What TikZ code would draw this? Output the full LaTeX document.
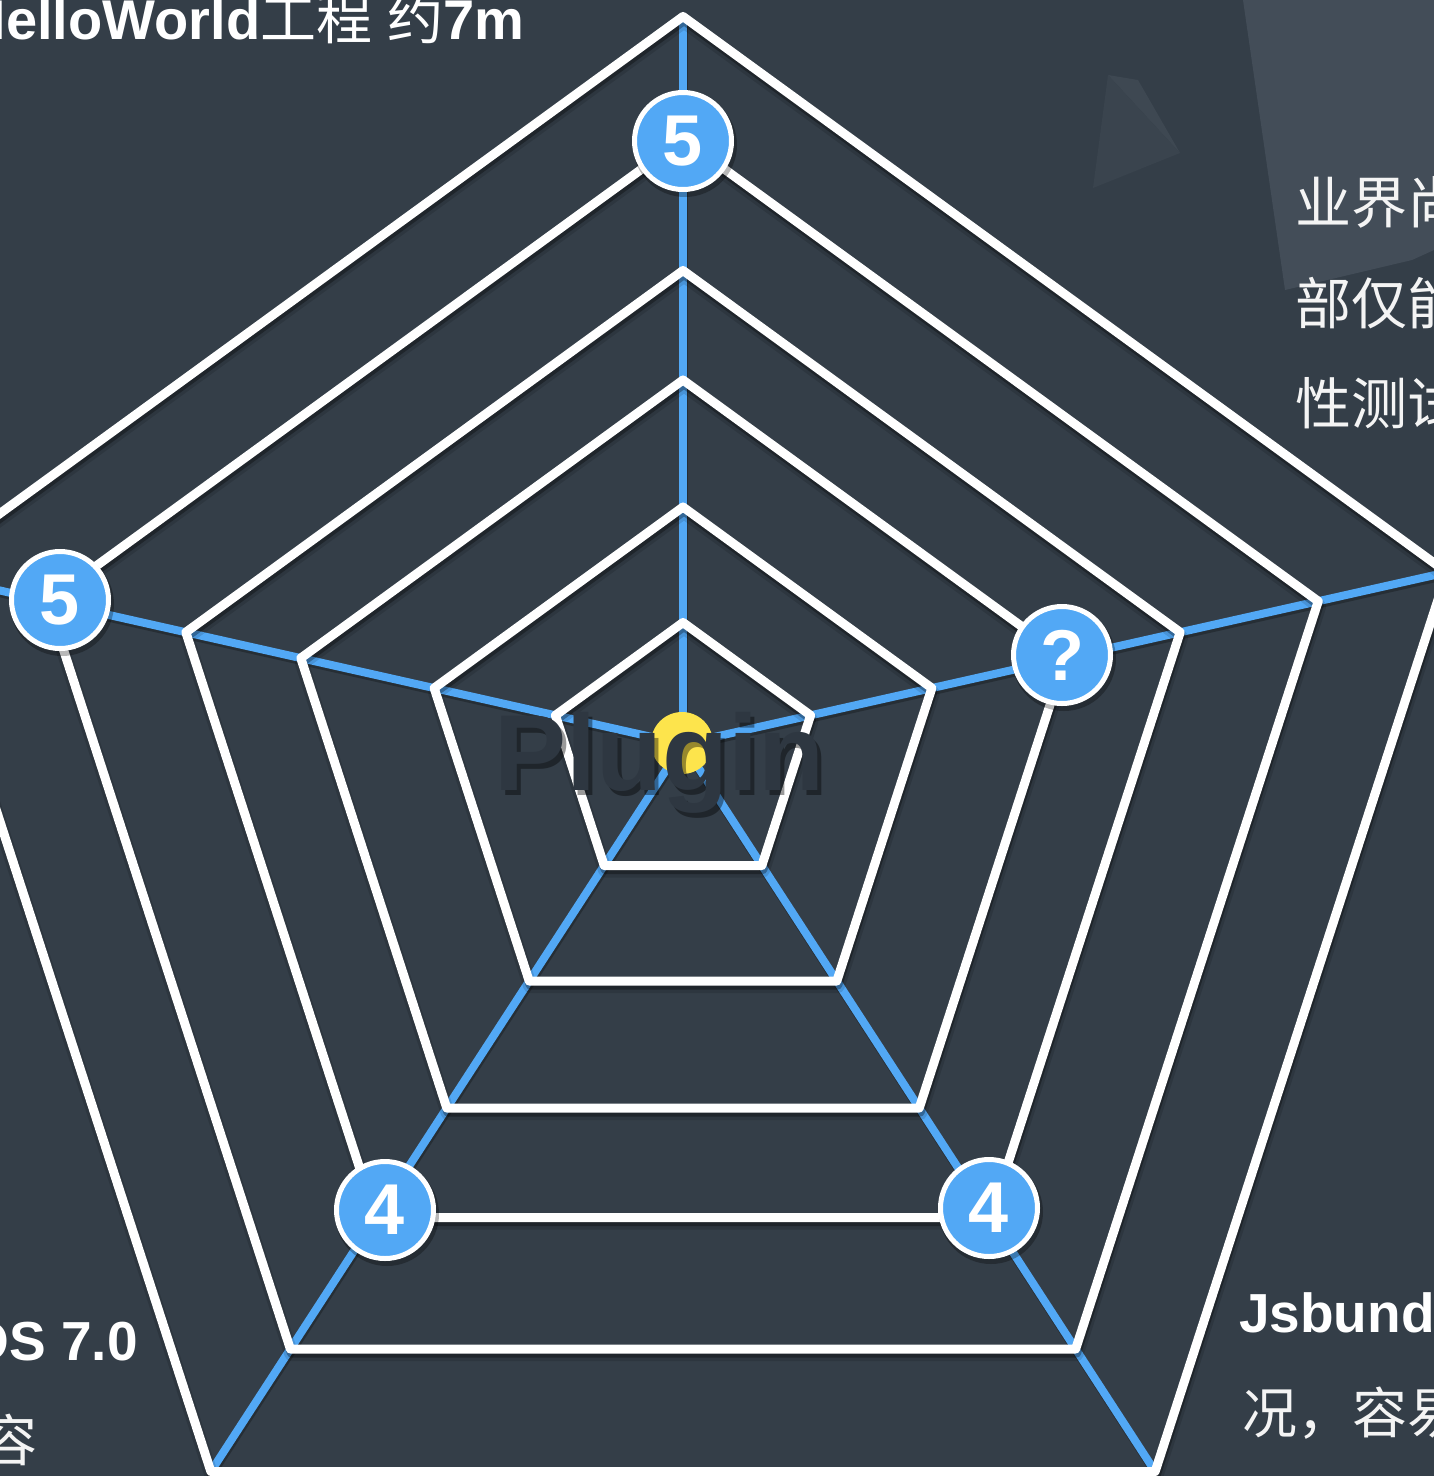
\documentclass[tikz,border=0pt]{standalone}
\usepackage{fontspec}
\setmainfont{Liberation Sans}
\newfontfamily\cjk{Noto Sans CJK SC}
\definecolor{bgcol}{RGB}{52,62,72}
\definecolor{decoA}{RGB}{67,77,88}
\definecolor{decoB}{RGB}{62,72,82}
\definecolor{decoC}{RGB}{58,68,78}
\definecolor{spokecol}{RGB}{82,168,245}
\definecolor{dotcol}{RGB}{253,228,76}
\definecolor{plugcol}{RGB}{46,55,65}
\definecolor{lighttxt}{RGB}{244,244,244}
\tikzset{
  ringline/.style={draw=white, line width=9pt, line join=round},
  ringshadowA/.style={draw=black, opacity=0.30, line width=9pt, line join=round},
  ringshadowB/.style={draw=black, opacity=0.12, line width=14pt, line join=round},
  spokeline/.style={draw=spokecol, line width=8pt},
  spokeshadow/.style={draw=black, opacity=0.25, line width=8pt},
  valnode/.style={circle, fill=spokecol, draw=white, line width=5pt, minimum size=97pt,
    inner sep=0pt, text=white, font=\fontsize{72}{72}\selectfont\bfseries},
  valshadow/.style={fill=black, opacity=0.28},
  bigtxt/.style={inner sep=0pt, text=white, font=\fontsize{55}{60}\selectfont\bfseries},
  cjktxt/.style={inner sep=0pt, text=lighttxt, font=\fontsize{56}{60}\selectfont\cjk},
  plugtext/.style={inner sep=0pt, anchor=base west, font=\fontsize{108}{110}\selectfont\bfseries}
}
\begin{document}
\begin{tikzpicture}[x=1pt,y=-1pt]
\useasboundingbox (0,0) rectangle (1434,1476);
\begin{scope}
\clip (0,0) rectangle (1434,1476);
\fill[bgcol] (0,0) rectangle (1434,1476);
% decorative shapes
\fill[decoA] (1243,0) -- (1434,0) -- (1434,250) -- (1412,260) -- (1285,290) -- cycle;
\fill[decoB] (1108,75) -- (1138,80) -- (1180,153) -- cycle;
\fill[decoC] (1108,75) -- (1180,153) -- (1093,188) -- cycle;
% centre and spoke ends
\def\L{727.5}
\coordinate (c) at (683,744);
\coordinate (s1) at (683,{744-\L});
\coordinate (s2) at ({683+1.05*\L},{744-0.236*\L});
\coordinate (s3) at ({683+0.649*\L},{744+\L});
\coordinate (s4) at ({683-0.649*\L},{744+\L});
\coordinate (s5) at ({683-1.05*\L},{744-0.236*\L});
% spokes
\foreach \s in {s1,s2,s3,s4,s5}{
  \draw[spokeshadow] ([shift={(1,3)}]c) -- ([shift={(1,3)}]\s);
}
\foreach \s in {s1,s2,s3,s4,s5}{
  \draw[spokeline] (c) -- (\s);
}
% ring shadows
\foreach \l in {121.5,237,364,473.5,605,727.5}{
  \draw[ringshadowB] (684,{749-\l}) -- ({684+1.05*\l},{749-0.236*\l}) -- ({684+0.649*\l},{749+\l})
     -- ({684-0.649*\l},{749+\l}) -- ({684-1.05*\l},{749-0.236*\l}) -- cycle;
  \draw[ringshadowA] (684,{748-\l}) -- ({684+1.05*\l},{748-0.236*\l}) -- ({684+0.649*\l},{748+\l})
     -- ({684-0.649*\l},{748+\l}) -- ({684-1.05*\l},{748-0.236*\l}) -- cycle;
}
% rings
\foreach \l in {121.5,237,364,473.5,605,727.5}{
  \draw[ringline] (683,{744-\l}) -- ({683+1.05*\l},{744-0.236*\l}) -- ({683+0.649*\l},{744+\l})
     -- ({683-0.649*\l},{744+\l}) -- ({683-1.05*\l},{744-0.236*\l}) -- cycle;
}
% yellow centre dot
\fill[dotcol] (682,743) circle (31pt);
% value circles
\coordinate (p1) at (683,141);
\coordinate (p2) at (60,600);
\coordinate (p3) at (1062,655);
\coordinate (p4) at (385,1210);
\coordinate (p5) at (989,1208);
\foreach \p in {p1,p2,p3,p4,p5}{
  \fill[valshadow] ([shift={(2,4)}]\p) circle (52pt);
}
\node[valnode] (vtop) at (p1) {5};
\node[valnode] (vleft) at (p2) {5};
\node[valnode] (vright) at (p3) {?};
\node[valnode] (vbl) at (p4) {4};
\node[valnode] (vbr) at (p5) {4};
% Plugin label (with its shadow)
\node[plugtext, text=black, opacity=0.4] (plugshadow) at (498,795) {Plugin};
\node[plugtext, text=plugcol] (plugin) at (494,790) {Plugin};
% texts
\node[bigtxt, anchor=base east, font=\fontsize{56}{60}\selectfont\bfseries] (tl) at (525,39) {HelloWorld{\cjk\mdseries 工程} {\cjk\mdseries 约}7m};
\node[cjktxt, anchor=base west] (tr1) at (1295,223) {业界尚};
\node[cjktxt, anchor=base west] (tr2) at (1295,324) {部仅能};
\node[cjktxt, anchor=base west] (tr3) at (1295,424) {性测试};
\node[bigtxt, anchor=base east] (bl1) at (138,1360) {OS 7.0};
\node[cjktxt, anchor=base east] (bl2) at (38,1461) {容};
\node[bigtxt, anchor=base west] (br1) at (1239,1332) {Jsbund};
\node[cjktxt, anchor=base west, font=\fontsize{55}{60}\selectfont\cjk] (br2) at (1242,1433) {况，容易};
\end{scope}
\end{tikzpicture}
\end{document}
